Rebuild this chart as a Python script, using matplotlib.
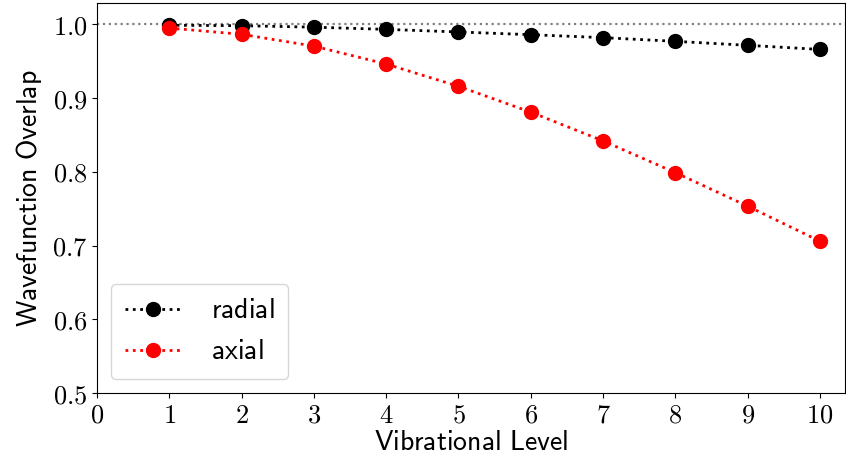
import numpy as np
import matplotlib
matplotlib.use("Agg")
import matplotlib.pyplot as plt

plt.rcParams['mathtext.fontset'] = 'cm'
plt.rcParams['font.family'] = 'serif'
plt.rcParams['font.serif'] = ['DejaVu Serif']

levels = [1, 2, 3, 4, 5, 6, 7, 8, 9, 10]
radial = [0.9988, 0.9982, 0.9962, 0.9932, 0.9897, 0.9860, 0.9820, 0.9770, 0.9716, 0.9660]
axial = [0.9950, 0.9865, 0.9705, 0.9462, 0.9160, 0.8810, 0.8420, 0.7990, 0.7535, 0.7060]

fig = plt.figure(figsize=(8.46, 4.73), dpi=100)
ax = fig.add_axes([0.1147, 0.169, 0.8843, 0.8247])

ax.axhline(1.0, color='gray', ls=':', lw=1.6)
ax.plot(levels, radial, ':', color='black', marker='o', markersize=10, lw=2, label=r'$\mathsf{radial}$')
ax.plot(levels, axial, ':', color='red', marker='o', markersize=10, lw=2, label=r'$\mathsf{axial}$')

ax.set_xlim(0, 10.35)
ax.set_ylim(0.5, 1.029)
ax.set_xticks(np.arange(0, 11))
ax.set_xticklabels([r'$%d$' % i for i in range(11)])
yt = [0.5, 0.6, 0.7, 0.8, 0.9, 1.0]
ax.set_yticks(yt)
ax.set_yticklabels([r'$%.1f$' % v for v in yt])
ax.tick_params(labelsize=19)

ax.set_xlabel(r'$\mathsf{Vibrational\ Level}$', fontsize=20, labelpad=1)
ax.set_ylabel(r'$\mathsf{Wavefunction\ Overlap}$', fontsize=20, labelpad=6)

ax.legend(loc='lower left', fontsize=20, handlelength=2.0, handletextpad=1.1,
          borderpad=0.5, labelspacing=0.5)

fig.savefig('out.png', dpi=100)
